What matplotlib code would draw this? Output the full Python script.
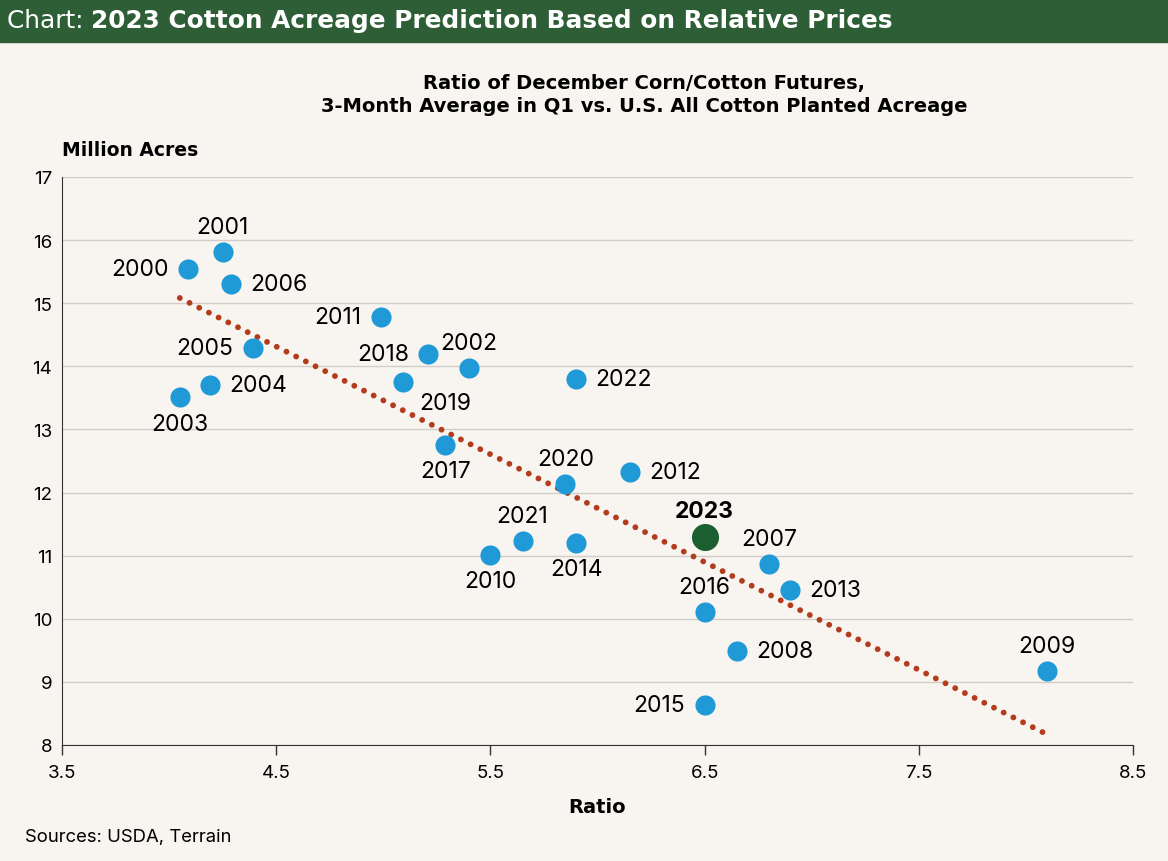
import numpy as np
import matplotlib
matplotlib.use("Agg")
import matplotlib.pyplot as plt
from matplotlib.patches import Rectangle

plt.rcParams['font.family'] = ['Inter', 'DejaVu Sans']

# data
years = [2000, 2001, 2006, 2011, 2005, 2018, 2002, 2022, 2004, 2019, 2003, 2017,
         2012, 2020, 2021, 2014, 2010, 2007, 2013, 2016, 2008, 2009, 2015]
ratio = [4.09, 4.25, 4.29, 4.99, 4.39, 5.21, 5.40, 5.90, 4.19, 5.09, 4.05, 5.29,
         6.15, 5.85, 5.65, 5.90, 5.50, 6.80, 6.90, 6.50, 6.65, 8.10, 6.50]
acres = [15.54, 15.81, 15.30, 14.78, 14.29, 14.19, 13.97, 13.80, 13.70, 13.75, 13.51, 12.75,
         12.32, 12.13, 11.23, 11.20, 11.01, 10.87, 10.45, 10.11, 9.49, 9.17, 8.63]
# where each label sits relative to its dot
label_side = ['left', 'above', 'right', 'left', 'left', 'left', 'above', 'right', 'right',
              'belowright', 'below', 'below', 'right', 'above', 'above', 'below', 'below',
              'above', 'right', 'above', 'right', 'above', 'left']

pred_year = 2023
pred_ratio = 6.50
pred_acres = 11.29

bg = '#f8f4f0'
blue = '#1f9ad6'
green = '#1b5e2f'
trend_col = '#b23c1c'
wide = ['DejaVu Sans']

fig = plt.figure(figsize=(11.68, 8.62), dpi=100, facecolor=bg)
W, H = 1168, 862

# header bar
fig.patches.append(Rectangle((0, 1 - 43 / H), 1, 43 / H, transform=fig.transFigure,
                             color='#2e5e35', zorder=0))
t1 = fig.text(7 / W, 1 - 21 / H, 'Chart: ', color='white', fontsize=17.8, va='center',
              family=wide)
fig.canvas.draw()
bb = t1.get_window_extent()
fig.text(bb.x1 / W, 1 - 21 / H, '2023 Cotton Acreage Prediction Based on Relative Prices',
         color='white', fontsize=17.8, fontweight='bold', va='center', family=wide)

fig.text(644 / W, 1 - 95 / H,
         'Ratio of December Corn/Cotton Futures,\n3-Month Average in Q1 vs. U.S. All Cotton Planted Acreage',
         ha='center', va='center', fontsize=14, fontweight='bold', linespacing=1.3,
         family=wide)

ax = fig.add_axes([62 / W, (H - 746) / H, 1071 / W, 568 / H])
ax.set_facecolor(bg)
ax.set_xlim(3.5, 8.5)
ax.set_ylim(8, 17)
ax.set_xticks(np.arange(3.5, 8.6, 1.0))
ax.set_xticklabels(['3.5', '4.5', '5.5', '6.5', '7.5', '8.5'])
ax.set_yticks(range(8, 18))
ax.grid(axis='y', color='#d2cdc8', lw=1)
ax.set_axisbelow(True)
for s in ['top', 'right']:
    ax.spines[s].set_visible(False)
for s in ['left', 'bottom']:
    ax.spines[s].set_color('#333333')
ax.tick_params(axis='x', length=7, width=1, color='#333333', labelsize=13.5, pad=7)
ax.tick_params(axis='y', length=0, labelsize=13.5, pad=7)

# trend line fitted over the history
x = np.array(ratio)
y = np.array(acres)
m, b = np.polyfit(x, y, 1)
xs = np.array([x.min(), x.max()])
ax.plot(xs, m * xs + b, color=trend_col, lw=4.2, linestyle=(0, (0.01, 1.85)),
        dash_capstyle='round', zorder=2)

ax.scatter(ratio, acres, s=210, color=blue, zorder=3, linewidths=0)
ax.scatter([pred_ratio], [pred_acres], s=380, color=green, zorder=3, linewidths=0)

offsets = {
    'left': ((-14, 0), 'right', 'center'),
    'right': ((14, 0), 'left', 'center'),
    'above': ((0, 10), 'center', 'bottom'),
    'below': ((0, -11), 'center', 'top'),
    'belowright': ((12, -7), 'left', 'top'),
}
for yr, xv, yv, side in zip(years, ratio, acres, label_side):
    off, ha, va = offsets[side]
    ax.annotate(str(yr), (xv, yv), xytext=off, textcoords='offset points',
                ha=ha, va=va, fontsize=16.5, color='black')
ax.annotate(str(pred_year), (pred_ratio, pred_acres), xytext=(0, 11),
            textcoords='offset points', ha='center', va='bottom',
            fontsize=16.5, fontweight='bold')

fig.text(62 / W, 1 - 150 / H, 'Million Acres', fontsize=13.5, fontweight='bold',
         va='center', ha='left', family=wide)
fig.text(597 / W, 1 - 808 / H, 'Ratio', fontsize=14, fontweight='bold',
         va='center', ha='center', family=wide)
fig.text(25 / W, 1 - 838 / H, 'Sources: USDA, Terrain', fontsize=13.3,
         va='center', ha='left')

fig.savefig('out.png', dpi=100, facecolor=bg)
